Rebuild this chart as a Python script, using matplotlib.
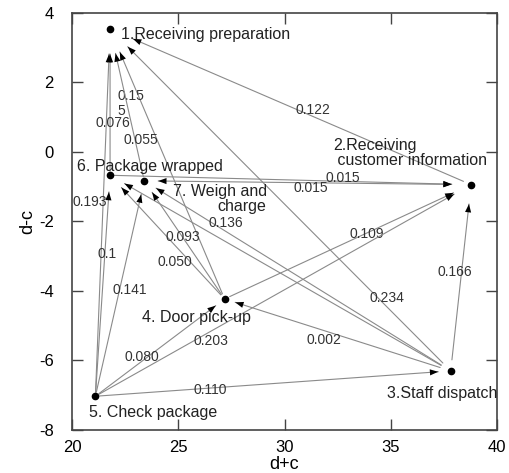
import matplotlib
matplotlib.use("Agg")
import matplotlib.pyplot as plt

plt.rcParams['font.family'] = ['Liberation Sans', 'DejaVu Sans']
plt.rcParams['axes.unicode_minus'] = False

# nodes: prominence (d+c) and relation (d-c)
node_names = ["1.Receiving preparation", "2.Receiving\n customer information",
              "3.Staff dispatch", "4. Door pick-up", "5. Check package",
              "6. Package wrapped", "7. Weigh and\ncharge"]
node_x = [21.79, 38.78, 37.82, 27.18, 21.10, 21.79, 23.40]
node_y = [3.54, -0.94, -6.30, -4.23, -7.03, -0.67, -0.83]

# edges (source -> target, 1-based) and influence values
edge_src = [2, 4, 6, 7, 5, 3, 5, 4, 3, 5, 4, 3, 5, 3, 5, 6, 7, 4, 5, 3]
edge_dst = [1, 1, 1, 1, 1, 1, 6, 6, 6, 7, 7, 7, 4, 4, 3, 2, 2, 2, 2, 2]
edge_val = ["0.122", "0.15\n5", "0.076", "0.055", "0.193", "0.234", "0.1", "0.050",
            "", "0.141", "0.093", "0.136", "0.080", "0.002", "0.110", "0.015",
            "0.015", "0.109", "0.203", "0.166"]
both_ways = [False] * 16 + [True] + [False] * 3

# layout of text
node_lbl_pos = [(22.31, 3.39), (32.28, -0.03), (34.81, -6.96), (23.28, -4.75),
                (20.82, -7.49), (20.25, -0.43), (29.16, -1.35)]
node_lbl_ha = ['left', 'left', 'left', 'left', 'left', 'left', 'right']
edge_lbl_pos = [(31.34, 1.21), (22.78, 1.39), (21.93, 0.83), (23.22, 0.34),
                (20.85, -1.44), (34.82, -4.19), (21.67, -2.95), (24.83, -3.17),
                None, (22.73, -3.98), (25.19, -2.46), (27.26, -2.04),
                (23.30, -5.90), (31.87, -5.42), (26.52, -6.84), (32.74, -0.74),
                (31.22, -1.05), (33.87, -2.35), (26.52, -5.45), (38.02, -3.46)]
head_gap = {1: 18, 2: 14, 3: 9, 4: 8, 5: 6, 6: 12, 7: 10}
tail_gap = {1: 4, 2: 6, 3: 8, 4: 4, 5: 3, 6: 3, 7: 3}

fig = plt.figure(figsize=(5.09, 4.73), dpi=100)
ax = fig.add_axes([0.1415, 0.091, 0.835, 0.8815])

line_col = '#8a8a8a'
for i in range(len(edge_src)):
    s, d = edge_src[i] - 1, edge_dst[i] - 1
    p0 = (node_x[s], node_y[s])
    p1 = (node_x[d], node_y[d])
    ga, gb = tail_gap[s + 1], head_gap[d + 1]
    if both_ways[i]:
        ga, gb = head_gap[s + 1], head_gap[d + 1]
    # gray line
    ax.annotate("", xy=p1, xytext=p0,
                arrowprops=dict(arrowstyle='-', color=line_col, lw=0.8,
                                shrinkA=ga, shrinkB=gb))
    # black head
    ax.annotate("", xy=p1, xytext=p0,
                arrowprops=dict(arrowstyle='-|>,head_length=0.6,head_width=0.22',
                                color='black', lw=0, mutation_scale=10,
                                shrinkA=ga, shrinkB=gb))
    if both_ways[i]:
        ax.annotate("", xy=p0, xytext=p1,
                    arrowprops=dict(arrowstyle='-|>,head_length=0.6,head_width=0.22',
                                    color='black', lw=0, mutation_scale=10,
                                    shrinkA=gb, shrinkB=ga))
    if edge_lbl_pos[i] is not None and edge_val[i]:
        ax.text(edge_lbl_pos[i][0], edge_lbl_pos[i][1], edge_val[i], fontsize=10,
                color='#333333', ha='center', va='center', multialignment='left',
                linespacing=1.1)

ax.plot(node_x, node_y, 'o', color='black', markersize=4.5, zorder=5)

for i, name in enumerate(node_names):
    ax.text(node_lbl_pos[i][0], node_lbl_pos[i][1], name, fontsize=11.5,
            color='#222222', ha=node_lbl_ha[i], va='center',
            multialignment=node_lbl_ha[i], linespacing=1.05)

ax.set_xlim(20, 40)
ax.set_ylim(-8, 4)
ax.set_xticks([20, 25, 30, 35, 40])
ax.set_yticks([-8, -6, -4, -2, 0, 2, 4])
ax.tick_params(direction='in', length=8, width=1, top=True, right=True,
               labelsize=12, color='#444444')
ax.tick_params(axis='x', pad=7)
ax.tick_params(axis='y', pad=13)
for sp in ax.spines.values():
    sp.set_color('#444444')
    sp.set_linewidth(1.2)
ax.set_xlabel("d+c", fontsize=13, labelpad=1)
ax.set_ylabel("d-c", fontsize=13, labelpad=2)

fig.savefig("out.png", dpi=100)
